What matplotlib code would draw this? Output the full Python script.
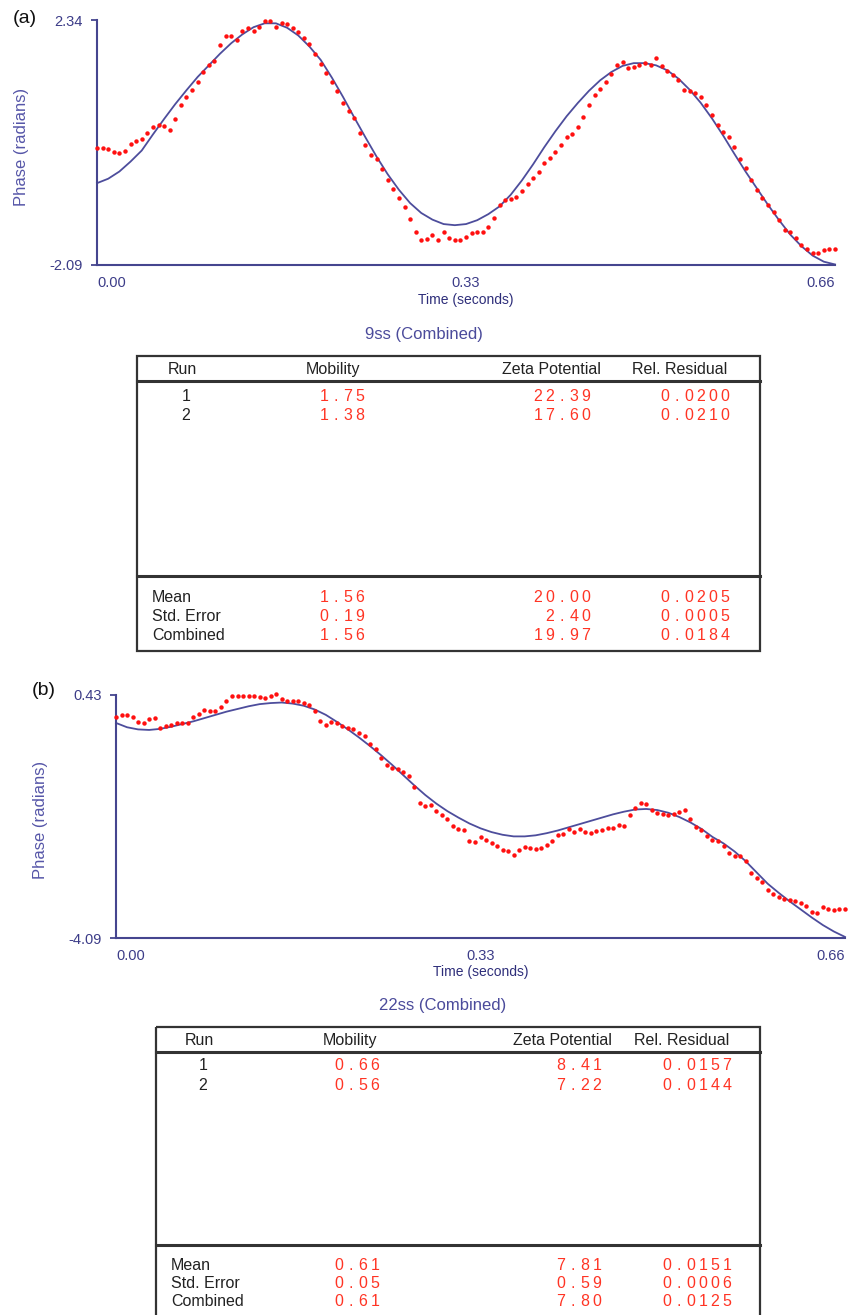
import numpy as np
import matplotlib
matplotlib.use("Agg")
import matplotlib.pyplot as plt
from matplotlib.patches import Rectangle

plt.rcParams["font.family"] = ["Liberation Sans", "DejaVu Sans"]

# ---- panel (a) : 9ss ----
t_fit = np.arange(67) * 0.01
fit_a = [-0.61, -0.53, -0.40, -0.22, -0.02, 0.27, 0.55, 0.82, 1.07, 1.31,
         1.52, 1.73, 1.92, 2.08, 2.21, 2.28, 2.28, 2.20, 2.06, 1.86,
         1.62, 1.30, 0.95, 0.58, 0.22, -0.13, -0.45, -0.73, -0.97, -1.15,
         -1.27, -1.35, -1.37, -1.35, -1.28, -1.17, -1.03, -0.82, -0.56, -0.27,
         0.04, 0.33, 0.60, 0.84, 1.06, 1.25, 1.40, 1.51, 1.56, 1.56,
         1.52, 1.43, 1.28, 1.08, 0.84, 0.56, 0.25, -0.08, -0.40, -0.70,
         -1.00, -1.28, -1.54, -1.75, -1.92, -2.03, -2.08]

t_meas = np.arange(133) * 0.005
meas_a = [0.03, 0.03, 0.00, -0.05, -0.07, -0.02, 0.10, 0.15, 0.18, 0.30,
          0.40, 0.45, 0.42, 0.35, 0.55, 0.80, 0.95, 1.07, 1.22, 1.40,
          1.52, 1.60, 1.88, 2.05, 2.05, 1.98, 2.15, 2.20, 2.15, 2.22,
          2.32, 2.33, 2.22, 2.28, 2.26, 2.20, 2.13, 2.02, 1.90, 1.72,
          1.55, 1.38, 1.22, 1.05, 0.84, 0.70, 0.57, 0.30, 0.08, -0.10,
          -0.18, -0.35, -0.55, -0.72, -0.88, -1.05, -1.25, -1.50, -1.64, -1.62,
          -1.55, -1.64, -1.50, -1.60, -1.64, -1.64, -1.58, -1.52, -1.49, -1.49,
          -1.40, -1.24, -1.00, -0.92, -0.90, -0.86, -0.75, -0.62, -0.52, -0.40,
          -0.25, -0.15, -0.05, 0.08, 0.22, 0.27, 0.40, 0.58, 0.80, 0.98,
          1.10, 1.22, 1.37, 1.52, 1.58, 1.47, 1.49, 1.52, 1.56, 1.52,
          1.65, 1.50, 1.42, 1.35, 1.25, 1.08, 1.05, 1.02, 0.95, 0.80,
          0.62, 0.45, 0.32, 0.22, 0.05, -0.17, -0.34, -0.55, -0.73, -0.88,
          -1.00, -1.14, -1.28, -1.45, -1.50, -1.60, -1.72, -1.80, -1.88, -1.88,
          -1.82, -1.80, -1.80]

# ---- panel (b) : 22ss ----
fit_b = [-0.09, -0.17, -0.21, -0.22, -0.20, -0.16, -0.11, -0.06, 0.00, 0.06,
         0.12, 0.17, 0.22, 0.26, 0.28, 0.29, 0.27, 0.23, 0.16, 0.06,
         -0.07, -0.21, -0.36, -0.52, -0.69, -0.87, -1.06, -1.25, -1.43, -1.59,
         -1.73, -1.85, -1.96, -2.05, -2.12, -2.17, -2.20, -2.20, -2.18, -2.14,
         -2.09, -2.03, -1.97, -1.91, -1.85, -1.79, -1.74, -1.70, -1.69, -1.71,
         -1.76, -1.84, -1.94, -2.06, -2.21, -2.33, -2.48, -2.66, -2.87, -3.08,
         -3.25, -3.41, -3.56, -3.71, -3.85, -3.97, -4.07]

meas_b = [0.03, 0.05, 0.06, 0.02, -0.08, -0.10, -0.02, 0.00, -0.18, -0.15,
          -0.12, -0.09, -0.10, -0.10, 0.03, 0.08, 0.16, 0.14, 0.13, 0.20,
          0.31, 0.42, 0.42, 0.42, 0.42, 0.41, 0.40, 0.37, 0.42, 0.45,
          0.36, 0.32, 0.31, 0.31, 0.28, 0.24, 0.13, -0.05, -0.12, -0.08,
          -0.10, -0.15, -0.19, -0.21, -0.27, -0.34, -0.48, -0.57, -0.74, -0.87,
          -0.93, -0.95, -1.01, -1.08, -1.28, -1.58, -1.64, -1.62, -1.72, -1.80,
          -1.88, -2.00, -2.06, -2.08, -2.28, -2.30, -2.22, -2.27, -2.32, -2.38,
          -2.45, -2.47, -2.55, -2.45, -2.40, -2.42, -2.44, -2.42, -2.36, -2.28,
          -2.18, -2.15, -2.06, -2.12, -2.06, -2.12, -2.13, -2.10, -2.08, -2.04,
          -2.04, -1.99, -2.00, -1.80, -1.68, -1.58, -1.60, -1.70, -1.76, -1.79,
          -1.80, -1.78, -1.75, -1.70, -1.88, -2.02, -2.08, -2.20, -2.26, -2.28,
          -2.38, -2.50, -2.56, -2.56, -2.66, -2.88, -2.98, -3.05, -3.20, -3.28,
          -3.32, -3.36, -3.38, -3.40, -3.44, -3.50, -3.60, -3.62, -3.52, -3.55,
          -3.57, -3.55, -3.55]

# ---- tables ----
run_ids = ["1", "2"]
stat_names = ["Mean", "Std. Error", "Combined"]
headers = ["Run", "Mobility", "Zeta Potential", "Rel. Residual"]

mob_a = [1.75, 1.38]
zeta_a = [22.39, 17.60]
rel_a = [0.0200, 0.0210]
mob_stat_a = [1.56, 0.19, 1.56]
zeta_stat_a = [20.00, 2.40, 19.97]
rel_stat_a = [0.0205, 0.0005, 0.0184]

mob_b = [0.66, 0.56]
zeta_b = [8.41, 7.22]
rel_b = [0.0157, 0.0144]
mob_stat_b = [0.61, 0.05, 0.61]
zeta_stat_b = [7.81, 0.59, 7.80]
rel_stat_b = [0.0151, 0.0006, 0.0125]

W, H = 855, 1315
AXC = "#45458f"
FITC = "#4d4d9c"
DOTC = "#ff1010"
NUMC = "#ff3424"

fig = plt.figure(figsize=(W / 100, H / 100), dpi=100)

# pixel overlay for tables and free text
ov = fig.add_axes([0, 0, 1, 1], zorder=0)
ov.set_xlim(0, W)
ov.set_ylim(H, 0)
ov.axis("off")


def px_axes(l, t, r, b):
    return fig.add_axes([l / W, 1 - b / H, (r - l) / W, (b - t) / H], zorder=2)


def phase_plot(ax, fit, meas, ylo, yhi, xlab_y, ylab_x, ylab_y):
    ax.patch.set_alpha(0)
    ax.plot(t_fit, fit, color=FITC, lw=1.3, clip_on=False, zorder=2)
    ax.plot(t_meas, meas, "o", color=DOTC, ms=3.2, mew=0, clip_on=False, zorder=3)
    ax.set_xlim(0, 0.66)
    ax.set_ylim(ylo, yhi)
    for s in ["top", "right"]:
        ax.spines[s].set_visible(False)
    for s in ["left", "bottom"]:
        ax.spines[s].set_color(AXC)
        ax.spines[s].set_linewidth(1.5)
    ax.set_yticks([ylo, yhi])
    ax.set_yticklabels([f"{ylo:.2f}", f"{yhi:.2f}"])
    ax.set_xticks([0, 0.33, 0.66])
    ax.set_xticklabels(["0.00", "0.33", "0.66"])
    ax.tick_params(axis="y", length=4, width=1.3, color=AXC, pad=6,
                   labelsize=10.5, labelcolor="#3c3c88")
    ax.tick_params(axis="x", length=0, pad=8, labelsize=10.5, labelcolor="#3c3c88")
    xl = ax.get_xticklabels()
    xl[0].set_ha("left")
    xl[-1].set_ha("right")
    ax.set_xlabel("Time (seconds)", fontsize=10, color="#2e2e7a", va="center")
    ax.xaxis.set_label_coords(0.5, xlab_y)
    ax.set_ylabel("Phase (radians)", fontsize=12, color="#5656a8", va="center")
    ax.yaxis.set_label_coords(ylab_x, ylab_y)


def spaced(x_right, y, s, pitch=12.0):
    n = len(s)
    for i, ch in enumerate(s):
        ov.text(x_right - (n - i - 0.5) * pitch, y, ch, ha="center", va="center",
                fontsize=11.5, color=NUMC)


def table(l, t, r, b, hdr_y, sep_y, cols, row_ys, stat_ys, stat_x,
          mob, zeta, rel, mob_s, zeta_s, rel_s):
    ov.add_patch(Rectangle((l, t), r - l, b - t, fill=False, ec="#333333", lw=1.6))
    ov.plot([l, r], [hdr_y, hdr_y], color="#333333", lw=2.2)
    ov.plot([l, r], [sep_y, sep_y], color="#333333", lw=2.2)
    run_x, mob_hx, zeta_hx, rel_hx, mob_vx, zeta_vx, rel_vx = cols
    hy = (t + hdr_y) / 2 + 1
    kw = dict(fontsize=11.5, color="#222222", va="center")
    ov.text(run_x, hy, headers[0], ha="center", **kw)
    ov.text(mob_hx, hy, headers[1], ha="center", **kw)
    ov.text(zeta_hx, hy, headers[2], ha="right", **kw)
    ov.text(rel_hx, hy, headers[3], ha="right", **kw)
    for i, y in enumerate(row_ys):
        ov.text(run_x + 4, y, run_ids[i], ha="center", **kw)
        spaced(mob_vx, y, f"{mob[i]:.2f}")
        spaced(zeta_vx, y, f"{zeta[i]:.2f}")
        spaced(rel_vx, y, f"{rel[i]:.4f}")
    for i, y in enumerate(stat_ys):
        ov.text(stat_x, y, stat_names[i], ha="left", **kw)
        spaced(mob_vx, y, f"{mob_s[i]:.2f}")
        spaced(zeta_vx, y, f"{zeta_s[i]:.2f}")
        spaced(rel_vx, y, f"{rel_s[i]:.4f}")


# panel (a)
ax_a = px_axes(97, 20, 835, 265)
phase_plot(ax_a, fit_a, meas_a, -2.09, 2.34, -0.143, -0.102, 0.48)
ov.text(13, 18, "(a)", fontsize=14, ha="left", va="center", color="#111111")
ov.text(424, 334, "9ss (Combined)", fontsize=12, ha="center", va="center", color="#4b4b9b")
table(137, 356, 760, 651, 381, 576,
      (182, 333, 601, 727, 366, 592, 731),
      [396, 415], [597, 616, 635], 152,
      mob_a, zeta_a, rel_a, mob_stat_a, zeta_stat_a, rel_stat_a)

# panel (b)
ax_b = px_axes(116, 695, 845, 938)
phase_plot(ax_b, fit_b, meas_b, -4.09, 0.43, -0.14, -0.103, 0.486)
ov.text(32, 690, "(b)", fontsize=14, ha="left", va="center", color="#111111")
ov.text(443, 1005, "22ss (Combined)", fontsize=12, ha="center", va="center", color="#4b4b9b")
table(156, 1027, 760, 1340, 1052, 1245,
      (199, 350, 612, 729, 381, 603, 733),
      [1066, 1085], [1265, 1283, 1302], 171,
      mob_b, zeta_b, rel_b, mob_stat_b, zeta_stat_b, rel_stat_b)

fig.savefig("out.png", dpi=100)
